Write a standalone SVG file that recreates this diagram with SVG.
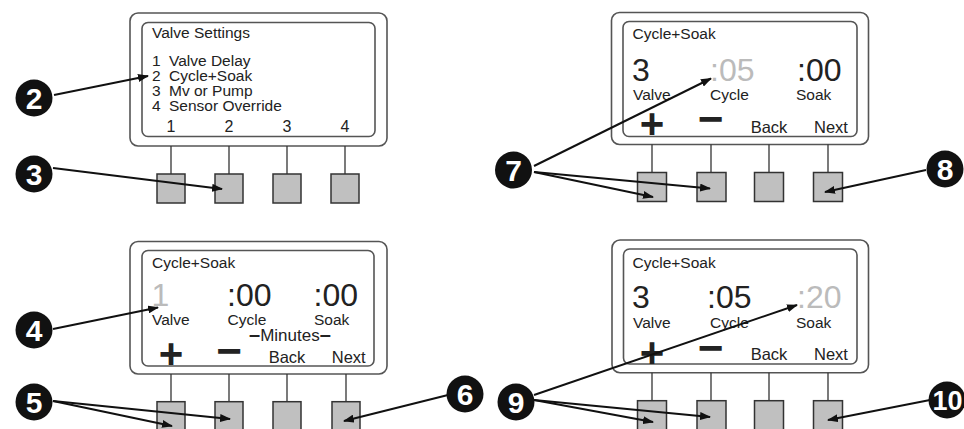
<svg xmlns="http://www.w3.org/2000/svg" width="964" height="429" viewBox="0 0 964 429">
<defs>
<style>
.outer{fill:#fff;stroke:#555;stroke-width:1.6}
.inner{fill:#fff;stroke:#555;stroke-width:1.6}
.btn{fill:#c0c0c0;stroke:#333;stroke-width:1.5}
.stem{stroke:#333;stroke-width:1.3}
text{font-family:"Liberation Sans",Arial,sans-serif}
.t{font-size:15.5px;fill:#222}
.k{font-size:16.5px;fill:#222;text-anchor:middle}
.n{font-size:16px;fill:#222;text-anchor:middle}
.big{font-size:32px;fill:#222}
.dim{fill:#bbb}
.plus{font-size:42px;font-weight:bold;fill:#222;text-anchor:middle}
.minus{font-size:44px;font-weight:bold;fill:#222;text-anchor:middle}
.min{font-size:17px;fill:#222}
.dash{font-weight:bold;font-size:20px}
.badge circle{fill:#111}
.badge text{fill:#fff;font-weight:bold;font-size:30px;text-anchor:middle}
.conn line{stroke:#111;stroke-width:2;marker-end:url(#ah)}
</style>
<marker id="ah" markerUnits="userSpaceOnUse" markerWidth="11" markerHeight="8" refX="10" refY="4" orient="auto">
<path d="M0,0 L11,4 L0,8 z" fill="#111"/>
</marker>
</defs>
<rect width="964" height="429" fill="#fff"/>

<g id="panel1">
<rect class="outer" x="130" y="13" width="257" height="133" rx="8"/>
<rect class="inner" x="142" y="22.5" width="233" height="114" rx="6"/>
<text class="t" x="152" y="37.5">Valve Settings</text>
<text class="t" x="152" y="66">1</text><text class="t" x="169" y="66">Valve Delay</text>
<text class="t" x="152" y="81">2</text><text class="t" x="169" y="81">Cycle+Soak</text>
<text class="t" x="152" y="96">3</text><text class="t" x="169" y="96">Mv or Pump</text>
<text class="t" x="152" y="111">4</text><text class="t" x="169" y="111">Sensor Override</text>
<text class="n" x="171" y="131.5">1</text>
<text class="n" x="229" y="131.5">2</text>
<text class="n" x="287" y="131.5">3</text>
<text class="n" x="345" y="131.5">4</text>
<line class="stem" x1="171" y1="146" x2="171" y2="174"/>
<line class="stem" x1="229" y1="146" x2="229" y2="174"/>
<line class="stem" x1="287" y1="146" x2="287" y2="174"/>
<line class="stem" x1="345" y1="146" x2="345" y2="174"/>
<rect class="btn" x="157" y="174" width="28" height="29"/>
<rect class="btn" x="215" y="174" width="28" height="29"/>
<rect class="btn" x="273" y="174" width="28" height="29"/>
<rect class="btn" x="331" y="174" width="28" height="29"/>
</g>

<g id="panel2">
<rect class="outer" x="611.5" y="12.5" width="257" height="132" rx="8"/>
<rect class="inner" x="623" y="21.5" width="234" height="115" rx="6"/>
<text class="t" x="632.5" y="39">Cycle+Soak</text>
<text class="big" x="632" y="80.5">3</text>
<text class="big dim" x="710" y="80.5">:05</text>
<text class="big" x="797" y="80.5">:00</text>
<text class="t" x="633" y="100">Valve</text>
<text class="t" x="710" y="100">Cycle</text>
<text class="t" x="796" y="100">Soak</text>
<text class="plus" x="652" y="137.5">+</text>
<text class="minus" x="710.5" y="133.5">−</text>
<text class="k" x="769" y="133">Back</text>
<text class="k" x="831" y="133">Next</text>
<line class="stem" x1="652" y1="144.5" x2="652" y2="172.5"/>
<line class="stem" x1="711" y1="144.5" x2="711" y2="172.5"/>
<line class="stem" x1="769" y1="144.5" x2="769" y2="172.5"/>
<line class="stem" x1="828" y1="144.5" x2="828" y2="172.5"/>
<rect class="btn" x="637.5" y="172.5" width="29" height="29"/>
<rect class="btn" x="697" y="172.5" width="29" height="29"/>
<rect class="btn" x="754.5" y="172.5" width="29" height="29"/>
<rect class="btn" x="813.5" y="172.5" width="29" height="29"/>
</g>

<g id="panel3">
<rect class="outer" x="130" y="241.5" width="257" height="132.5" rx="8"/>
<rect class="inner" x="142" y="250.5" width="232" height="115.5" rx="6"/>
<text class="t" x="152" y="268.3">Cycle+Soak</text>
<text class="big dim" x="151.5" y="306">1</text>
<text class="big" x="227" y="306">:00</text>
<text class="big" x="313.5" y="306">:00</text>
<text class="t" x="152" y="325">Valve</text>
<text class="t" x="227.5" y="325">Cycle</text>
<text class="t" x="314" y="325">Soak</text>
<text class="min" x="249" y="340.5"><tspan class="dash">–</tspan>Minutes<tspan class="dash">–</tspan></text>
<text class="plus" x="171" y="368">+</text>
<text class="minus" x="229" y="366">−</text>
<text class="k" x="287" y="362.7">Back</text>
<text class="k" x="348.7" y="362.7">Next</text>
<line class="stem" x1="171" y1="374" x2="171" y2="401.7"/>
<line class="stem" x1="229" y1="374" x2="229" y2="401.7"/>
<line class="stem" x1="287" y1="374" x2="287" y2="401.7"/>
<line class="stem" x1="346" y1="374" x2="346" y2="401.7"/>
<rect class="btn" x="157" y="401.7" width="28" height="30"/>
<rect class="btn" x="215" y="401.7" width="28" height="30"/>
<rect class="btn" x="273" y="401.7" width="28" height="30"/>
<rect class="btn" x="332" y="401.7" width="28" height="30"/>
</g>

<g id="panel4">
<rect class="outer" x="612" y="240" width="256.5" height="132.7" rx="8"/>
<rect class="inner" x="623.5" y="249" width="233.5" height="115" rx="6"/>
<text class="t" x="632.5" y="268.3">Cycle+Soak</text>
<text class="big" x="632" y="307.5">3</text>
<text class="big" x="707" y="307.5">:05</text>
<text class="big dim" x="797" y="307.5">:20</text>
<text class="t" x="633" y="327.5">Valve</text>
<text class="t" x="710" y="327.5">Cycle</text>
<text class="t" x="796" y="327.5">Soak</text>
<text class="plus" x="652" y="367">+</text>
<text class="minus" x="710.5" y="363.3">−</text>
<text class="k" x="769" y="360.3">Back</text>
<text class="k" x="831" y="360.3">Next</text>
<line class="stem" x1="652" y1="372.7" x2="652" y2="400.7"/>
<line class="stem" x1="711" y1="372.7" x2="711" y2="400.7"/>
<line class="stem" x1="769" y1="372.7" x2="769" y2="400.7"/>
<line class="stem" x1="828" y1="372.7" x2="828" y2="400.7"/>
<rect class="btn" x="637.5" y="400.7" width="29" height="30"/>
<rect class="btn" x="697" y="400.7" width="29" height="30"/>
<rect class="btn" x="754.5" y="400.7" width="29" height="30"/>
<rect class="btn" x="813.5" y="400.7" width="29" height="30"/>
</g>

<g id="connectors" class="conn">
<line x1="54" y1="95" x2="148" y2="76"/>
<line x1="53" y1="168" x2="222" y2="189"/>
<line x1="53" y1="329" x2="158" y2="307.5"/>
<line x1="53" y1="401" x2="172" y2="426"/>
<line x1="53" y1="401" x2="230" y2="419"/>
<line x1="448" y1="395" x2="344" y2="421"/>
<line x1="534" y1="166" x2="711" y2="78.5"/>
<line x1="534" y1="172" x2="653" y2="197"/>
<line x1="534" y1="172" x2="710" y2="188.5"/>
<line x1="926" y1="170" x2="825" y2="192"/>
<line x1="534" y1="395" x2="797" y2="305"/>
<line x1="534" y1="400" x2="653" y2="422"/>
<line x1="534" y1="400" x2="710" y2="417"/>
<line x1="930" y1="400" x2="828" y2="420"/>
</g>

<g id="badge2" class="badge"><circle cx="34" cy="98" r="18.5"/><text x="34" y="109">2</text></g>
<g id="badge3" class="badge"><circle cx="34" cy="174" r="18.5"/><text x="34" y="185">3</text></g>
<g id="badge4" class="badge"><circle cx="34" cy="330" r="18.5"/><text x="34" y="341">4</text></g>
<g id="badge5" class="badge"><circle cx="34" cy="402" r="18.5"/><text x="34" y="413">5</text></g>
<g id="badge6" class="badge"><circle cx="465" cy="394" r="18.5"/><text x="465" y="405">6</text></g>
<g id="badge7" class="badge"><circle cx="513.5" cy="170" r="18.5"/><text x="513.5" y="181">7</text></g>
<g id="badge8" class="badge"><circle cx="945" cy="169" r="18.5"/><text x="945" y="180">8</text></g>
<g id="badge9" class="badge"><circle cx="516" cy="402" r="18.5"/><text x="516" y="413">9</text></g>
<g id="badge10" class="badge"><circle cx="947" cy="400" r="18.5"/><text x="947.5" y="410" style="font-size:27px">10</text></g>
</svg>
